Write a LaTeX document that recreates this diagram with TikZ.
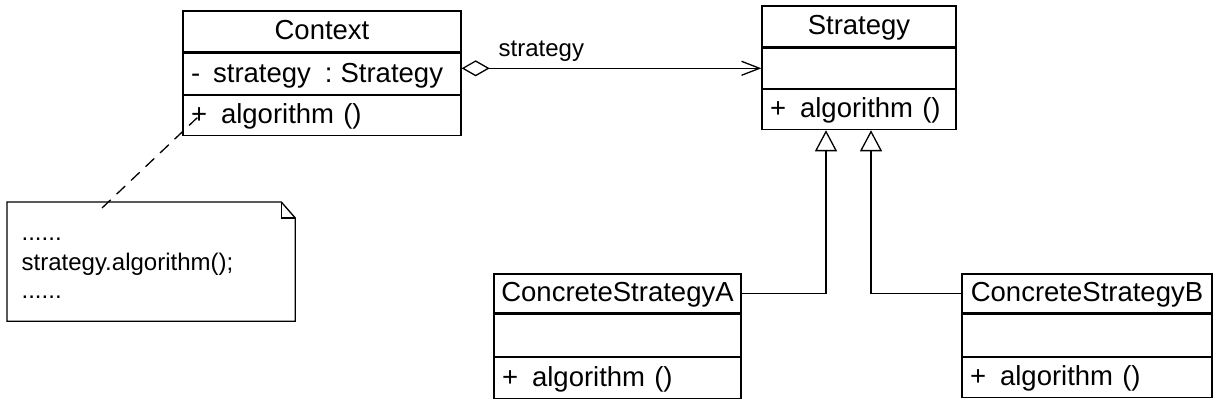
\documentclass[tikz,border=0pt]{standalone}
\usepackage{fontspec}
\setmainfont{Liberation Sans}
\usetikzlibrary{arrows.meta,calc}
\newcommand{\plusop}{\mbox{+\hspace{14pt}algorithm ()}}
\begin{document}
\begin{tikzpicture}[x=1pt,y=-1pt,
  line width=1.3pt,
  big/.style={font=\fontsize{27.5}{30}\selectfont},
  small/.style={font=\fontsize{24}{28}\selectfont},
  comp/.style={draw, big, inner sep=0pt, text height=19.5pt, text depth=3pt},
  titlebox/.style={comp, align=center},
  memberbox/.style={comp, align=left, inner xsep=8pt, inner ysep=0pt},
  plainlabel/.style={inner sep=0pt},
  dashline/.style={dash pattern=on 12pt off 8pt},
  aggr/.style={{Diamond[open,length=28pt,width=16pt]}-{Straight Barb[length=18pt,width=14pt]}},
  inherit/.style={-{Triangle[open,length=21pt,width=22pt]}}
]
\useasboundingbox (0,0) rectangle (1220,405);

% Context
\node[titlebox, minimum width=278pt, minimum height=41pt] (CTXt) at (322,31.5) {Context};
\node[memberbox, text width=262pt, minimum height=41pt, anchor=north] (CTXa) at (CTXt.south) {\mbox{-\hspace{13pt}strategy\hspace{14pt}:\hspace{8pt}Strategy}};
\node[memberbox, text width=262pt, minimum height=40pt, anchor=north] (CTXo) at (CTXa.south) {\plusop};

% Strategy
\node[titlebox, minimum width=194pt, minimum height=41pt] (STt) at (859,26.5) {Strategy};
\node[memberbox, text width=178pt, minimum height=40pt, anchor=north] (STa) at (STt.south) {};
\node[memberbox, text width=178pt, minimum height=40pt, anchor=north] (STo) at (STa.south) {\plusop};

% ConcreteStrategyA
\node[titlebox, minimum width=247pt, minimum height=39pt] (CAt) at (617.5,293.5) {ConcreteStrategyA};
\node[memberbox, text width=231pt, minimum height=42pt, anchor=north] (CAa) at (CAt.south) {};
\node[memberbox, text width=231pt, minimum height=41pt, anchor=north] (CAo) at (CAa.south) {\plusop};

% ConcreteStrategyB
\node[titlebox, minimum width=250pt, minimum height=39pt] (CBt) at (1087,293.5) {ConcreteStrategyB};
\node[memberbox, text width=234pt, minimum height=42pt, anchor=north] (CBa) at (CBt.south) {};
\node[memberbox, text width=234pt, minimum height=40pt, anchor=north] (CBo) at (CBa.south) {\plusop};

% Note
\node[inner sep=0pt, minimum width=287pt, minimum height=118pt, anchor=north west] (note) at (7,202) {};
\draw (note.north west) -- ([xshift=-14pt]note.north east) -- ([yshift=-16pt]note.north east)
      -- (note.south east) -- (note.south west) -- cycle;
\draw ([xshift=-14pt]note.north east) -- ([xshift=-14pt,yshift=-16pt]note.north east) -- ([yshift=-16pt]note.north east);
\node[plainlabel, small, anchor=base west] (n1) at (21,240) {......};
\node[plainlabel, small, anchor=base west] (n2) at (21,270) {strategy.algorithm();};
\node[plainlabel, small, anchor=base west] (n3) at (21,298) {......};

% Dependency of note
\coordinate (dStart) at ([xshift=95pt,yshift=-6pt]note.north west);
\coordinate (dEnd) at ([xshift=15pt,yshift=-2pt]CTXo.west);
\draw[dashline] (dStart) -- (dEnd);

% Aggregation
\draw[aggr] (CTXa.east |- STa.west) -- (STa.west);
\node[plainlabel, small, anchor=base west] (lbl) at (498,56) {strategy};

% Generalizations
\coordinate (sA) at ([xshift=-33pt]STo.south);
\coordinate (sB) at ([xshift=12pt]STo.south);
\draw[inherit] (CAt.east) -| (sA);
\draw[inherit] (CBt.west) -| (sB);
\end{tikzpicture}
\end{document}
